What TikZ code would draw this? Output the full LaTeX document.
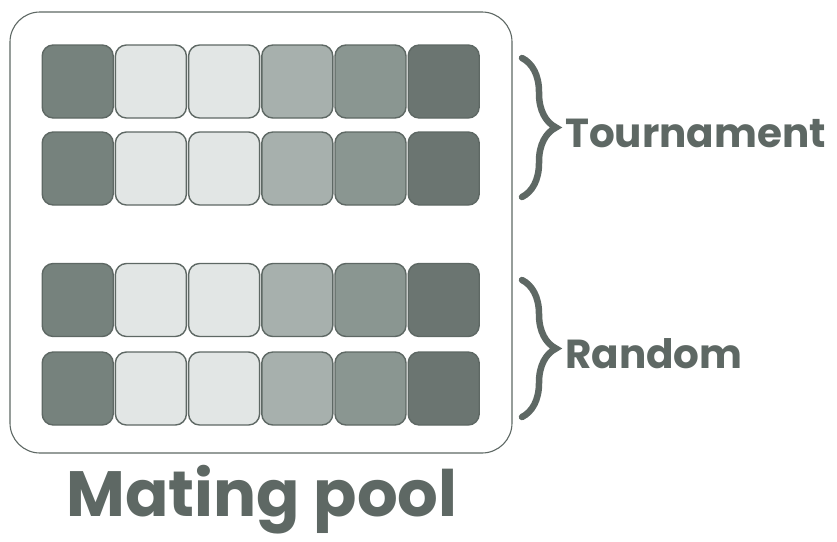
\documentclass[tikz,border=0pt]{standalone}
\usepackage{fontspec}
\setmainfont{Poppins}
\usepackage{xcolor}
\usetikzlibrary{positioning, decorations.pathreplacing}

\definecolor{geneA}{HTML}{76827D}
\definecolor{geneB}{HTML}{E2E6E5}
\definecolor{geneC}{HTML}{A7B0AD}
\definecolor{geneD}{HTML}{8A9691}
\definecolor{geneE}{HTML}{6B7571}
\definecolor{inkgray}{HTML}{5E6864}

\tikzset{
    gene/.style={draw=inkgray, line width=1.4pt, rounded corners=11pt,
        minimum width=71pt, minimum height=73pt, inner sep=0pt},
    groupbrace/.style={decorate, decoration={brace, amplitude=34pt},
        draw=inkgray, line width=6.5pt, line cap=round},
    grouplabel/.style={font=\fontsize{40.5}{48}\selectfont\bfseries,
        text=inkgray, anchor=base west, inner sep=0pt}
}

\begin{document}
\begin{tikzpicture}[x=1pt, y=-1pt]

    % =================================================================
    % 1. KHUNG NGOAI (MATING POOL)
    % =================================================================
    \useasboundingbox (0,0) rectangle (837,541);
    \draw[inkgray, line width=1.1pt, rounded corners=30pt]
        (10,12) rectangle (512,453);

    % =================================================================
    % 2. CAC NHIEM SAC THE (4 HANG x 6 GEN)
    % =================================================================
    \foreach \r/\yy in {1/81.5, 2/168.5, 3/300, 4/388.5} {
        \foreach \c/\col in {1/geneA, 2/geneB, 3/geneB, 4/geneC, 5/geneD, 6/geneE} {
            \node[gene, fill=\col] (g\r\c) at ({4.5+\c*73.2}, \yy) {};
        }
    }

    % =================================================================
    % 3. NGOAC NHON VA NHAN
    % =================================================================
    \coordinate (tTop) at (522,58);
    \coordinate (tBot) at (522,197);
    \coordinate (rTop) at (522,280);
    \coordinate (rBot) at (522,417);

    \draw[groupbrace] (tTop) -- (tBot);
    \draw[groupbrace] (rTop) -- (rBot);

    \node[grouplabel] (tour) at (565,147) {Tournament};
    \node[grouplabel] (rand) at (565,368) {Random};

    % Nhan duoi khung
    \node[font=\fontsize{64}{70}\selectfont\bfseries, text=inkgray,
          anchor=base, inner sep=0pt] (pool) at (262,516) {Mating pool};

\end{tikzpicture}
\end{document}
